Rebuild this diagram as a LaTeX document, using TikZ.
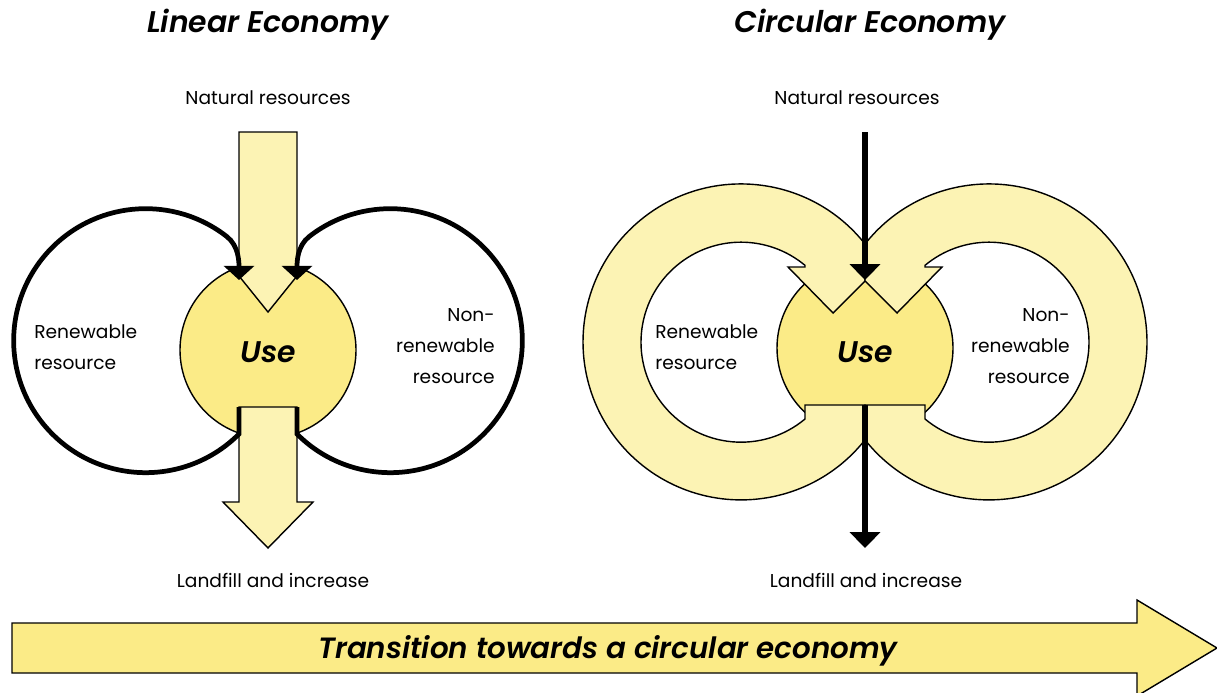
\documentclass[tikz,border=0pt]{standalone}
\usepackage{fontspec}
\setmainfont{Poppins}[BoldFont={Poppins SemiBold},BoldItalicFont={Poppins SemiBold Italic}]
\usetikzlibrary{arrows.meta}
\definecolor{bandyellow}{RGB}{252,243,180}
\definecolor{useyellow}{RGB}{251,235,135}

\tikzset{
  flow/.style={fill=bandyellow,draw=black,line width=0.8pt,line join=miter},
  usedisc/.style={fill=useyellow,draw=black,line width=0.8pt},
  loopline/.style={line width=2.7pt,-{Triangle[width=17pt,length=8pt]}},
  feed/.style={line width=3.1pt,-{Triangle[width=17pt,length=9pt]}},
  smalltext/.style={font=\fontsize{10.6}{17.6}\selectfont,inner sep=0pt},
  title/.style={font=\fontsize{17}{20}\selectfont\bfseries\itshape,inner sep=0pt},
}

\begin{document}
\begin{tikzpicture}[x=0.02cm,y=-0.02cm]
            \useasboundingbox (0,0) rectangle (1217,693);

            \node[title] (lintitle) at (268,25) {Linear Economy};
            \node[title] (circtitle) at (870,25) {Circular Economy};

            % linear economy
            \draw[usedisc] (268,350) circle[radius=88];
            \draw[flow] (239,132) -- (297,132) -- (297,276) -- (268,312) -- (239,276) -- cycle;
            \draw[flow] (239,407) -- (297,407) -- (297,502) -- (313,502) -- (268,548) -- (223,502) -- (239,502) -- cycle;
            \draw[loopline] (239,407) -- (239,434) arc[start angle=45, end angle=308, radius=132] .. controls +(38:15) and (239,262) .. (239,280);
            \draw[loopline] (297,407) -- (297,434) arc[start angle=135, end angle=-128, radius=132] .. controls +(142:15) and (297,262) .. (297,280);

            \node[smalltext] (linsrc) at (268,98) {Natural resources};
            \node[smalltext] (linsink) at (273,580) {Landfill and increase};
            \node[title] (linuse) at (268,352) {Use};
            \node[smalltext,align=left,anchor=west] (linren) at (34,347) {Renewable\\resource};
            \node[smalltext,align=right,anchor=east] (linnon) at (495,346) {Non-\\renewable\\resource};

            % circular economy
            \draw[usedisc] (865,348) circle[radius=88];
            \draw[flow] (865,244) arc[start angle=-38.3, end angle=-321.7, radius=158] -- (865,405) -- (805,405) -- (805,419) arc[start angle=50.2, end angle=309.8, radius=100] -- (805,267) -- (788,267) -- (833,313) -- (865,281) -- cycle;
            \draw[flow] (865,244) arc[start angle=218.3, end angle=501.7, radius=158] -- (865,405) -- (925,405) -- (925,419) arc[start angle=129.8, end angle=-129.8, radius=100] -- (925,267) -- (942,267) -- (897,313) -- (865,281) -- cycle;

            \coordinate (circin) at (865,132);
            \coordinate (circuse) at (865,280);
            \coordinate (circout) at (865,405);
            \coordinate (circend) at (865,548);
            \draw[feed] (circin) -- (circuse);
            \draw[feed] (circout) -- (circend);

            \node[smalltext] (circsrc) at (857,98) {Natural resources};
            \node[smalltext] (circsink) at (866,580) {Landfill and increase};
            \node[title] (circuselbl) at (865,352) {Use};
            \node[smalltext,align=left,anchor=west] (circren) at (655,347) {Renewable\\resource};
            \node[smalltext,align=right,anchor=east] (circnon) at (1070,346) {Non-\\renewable\\resource};

            % transition
            \draw[usedisc] (12,623) -- (1137,623) -- (1137,600) -- (1217,648) -- (1137,696) -- (1137,673) -- (12,673) -- cycle;
            \node[title,font=\fontsize{16.7}{20}\selectfont\bfseries\itshape] (trans) at (608,651) {Transition towards a circular economy};
\end{tikzpicture}
\end{document}
